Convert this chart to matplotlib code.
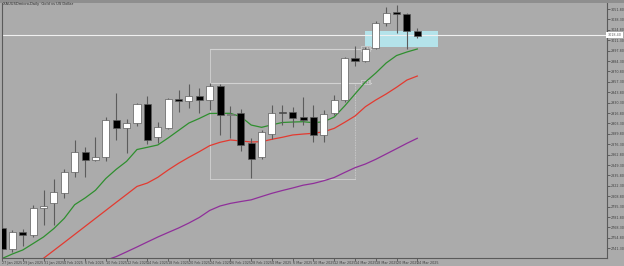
import matplotlib
matplotlib.use("Agg")
import matplotlib.pyplot as plt
from matplotlib.patches import Rectangle
import numpy as np

# --- data (XAUUSD daily candles, 27 Jan 2025 .. 24 Mar 2025) ---
opens = [2767, 2740, 2762.7, 2758.5, 2793, 2799.6, 2813.4, 2840.6, 2866.6, 2855.8,
         2859.3, 2907.7, 2897, 2904.2, 2928, 2886, 2897.7, 2935, 2932.8, 2938.9,
         2933.7, 2951.9, 2914.2, 2916.4, 2877.5, 2859.3, 2889, 2918.5, 2918.5, 2912,
         2912, 2888, 2916.4, 2933.7, 2987.8, 2984.3, 3001, 3034, 3048.3, 3045,
         3023.6]
highs = [2771, 2765, 2766, 2797, 2817, 2830.7, 2843.7, 2881.8, 2873, 2886,
         2911, 2942.4, 2909, 2930, 2939, 2905, 2936.5, 2946.6, 2954, 2948.9,
         2955.4, 2955, 2925.6, 2922, 2885, 2895, 2927.2, 2927, 2924, 2938,
         2927, 2920.7, 2940.2, 2990, 3003.8, 3003, 3036.2, 3054.8, 3057, 3047,
         3026.7]
lows = [2731, 2737, 2744, 2756, 2771, 2771.5, 2806.5, 2834, 2834, 2855,
        2855, 2881.8, 2865, 2900, 2877, 2878, 2896, 2918.5, 2923.7, 2916.4,
        2920.7, 2888, 2885, 2868, 2832, 2857, 2883, 2901, 2899, 2901,
        2879.6, 2879, 2914, 2931, 2978.2, 2983.4, 2999.9, 3030, 3021, 2999.5,
        3013.8]
closes = [2740, 2762.7, 2758.5, 2793, 2796.5, 2813.9, 2840.6, 2865.8, 2855.8, 2859.3,
          2907.7, 2897, 2903.4, 2928, 2881.7, 2899, 2935, 2932.8, 2938.9, 2933.7,
          2951.9, 2914.2, 2916, 2875.3, 2856.7, 2892.5, 2917.2, 2917.2, 2910, 2907.7,
          2888.3, 2915, 2933.7, 2987.8, 2984.3, 2999.9, 3033.2, 3047, 3044.9, 3023.2,
          3017.1]

nan = float("nan")
ma_green = [2727.9, 2733.8, 2739.0, 2747.4, 2755.9, 2766.9, 2780.1, 2797.8, 2806.5, 2816.5,
            2831.8, 2843.7, 2854.1, 2869.4, 2872.3, 2875.3, 2884.4, 2894.1, 2903.8, 2909.7,
            2916.2, 2916.4, 2916.4, 2912.0, 2901.2, 2898.2, 2901.5, 2904.5, 2905.1, 2905.5,
            2904.2, 2905.5, 2911.6, 2925.9, 2941.5, 2957.0, 2968.7, 2981.7, 2991.4, 2996.0,
            2999.9]
ma_red = [nan, nan, nan, 2718, 2728.2, 2738.5, 2748.8, 2759.2, 2769.6, 2780.0,
          2790.4, 2800.8, 2811.1, 2821.5, 2825.9, 2833.3, 2842.8, 2851.5, 2859.3, 2866.6,
          2874.4, 2878.8, 2881.8, 2880.5, 2879.2, 2879.6, 2882.7, 2885.3, 2888.3, 2889.5,
          2890.5, 2892.5, 2896.9, 2904.7, 2912.9, 2925.0, 2933.7, 2941.5, 2950.2, 2959.6,
          2964.8]
ma_purple = [nan, nan, nan, nan, nan, nan, nan, nan, nan, nan,
             2725.7, 2730.4, 2736.6, 2742.9, 2749.4, 2755.8, 2761.7, 2767.5, 2774.0, 2781.2,
             2790.3, 2796.1, 2799.5, 2801.9, 2804.1, 2808.4, 2812.6, 2816.2, 2819.5, 2823.1,
             2825.4, 2828.9, 2833.1, 2839.6, 2845.8, 2850.6, 2856.7, 2863.6, 2870.5, 2877.5,
             2884.0]

date_labels = ["27 Jan 2025", "29 Jan 2025", "31 Jan 2025", "4 Feb 2025", "6 Feb 2025",
               "10 Feb 2025", "12 Feb 2025", "14 Feb 2025", "18 Feb 2025", "20 Feb 2025",
               "24 Feb 2025", "26 Feb 2025", "28 Feb 2025", "4 Mar 2025", "6 Mar 2025",
               "10 Mar 2025", "12 Mar 2025", "14 Mar 2025", "18 Mar 2025", "20 Mar 2025",
               "24 Mar 2025"]
date_idx = list(range(0, 41, 2))

price_ticks = [3051.80, 3038.30, 3024.80, 3011.30, 2997.80, 2984.30, 2970.80, 2957.30,
               2943.80, 2930.30, 2916.80, 2903.30, 2889.80, 2876.30, 2862.80, 2849.30,
               2835.80, 2822.30, 2808.80, 2795.30, 2781.80, 2768.30, 2754.80, 2741.30]

last_price = 3018.40
title = "XAUUSDmicro,Daily  Gold vs US Dollar"

# drawn objects (candle index / price)
zone_x = [35, 42]
zone_p = [3002.1, 3023.2]
box_x = [20, 34, 35.5]
box_levels = [2999.9, 2956.1, 2830.7]

# --- figure ---
bg = "#ababab"
fig = plt.figure(figsize=(6.24, 2.66), dpi=100, facecolor=bg)
ax = fig.add_axes([2 / 624, 8 / 266, 605 / 624, 255 / 266], facecolor=bg)

# background objects
ax.add_patch(Rectangle((zone_x[0], zone_p[0]), zone_x[1] - zone_x[0], zone_p[1] - zone_p[0],
                       facecolor="#b4e3ea", edgecolor="none", zorder=1))
lc = "#d2d2d2"
ax.plot([box_x[0], box_x[2]], [box_levels[0]] * 2, color=lc, lw=0.8, zorder=1)
ax.plot([box_x[0], box_x[2]], [box_levels[1]] * 2, color=lc, lw=0.8, zorder=1)
ax.plot([box_x[0], box_x[1]], [box_levels[2]] * 2, color=lc, lw=0.6, zorder=1)
ax.plot([box_x[0], box_x[0]], [box_levels[0], box_levels[2]], color=lc, lw=0.6, zorder=1)
ax.plot([box_x[1], box_x[1]], [box_levels[1], box_levels[2]], color=lc, lw=0.6,
        ls=(0, (1, 1)), zorder=1)
for lv in box_levels[:2]:
    ax.text(box_x[2] - 0.05, lv, "%.1f" % lv, fontsize=1.8, color="#707070", ha="right",
            va="center", zorder=2,
            bbox=dict(boxstyle="square,pad=0.3", fc="#c4c4c4", ec="none"))

ax.axhline(last_price, color="#f0f0f0", lw=0.8, zorder=1.5)

# moving averages
x = np.arange(len(opens))
ax.plot(x, ma_green, color="#2f8f2f", lw=0.9, zorder=2)
ax.plot(x, ma_red, color="#e33a30", lw=0.9, zorder=2)
ax.plot(x, ma_purple, color="#8f2f9a", lw=0.9, zorder=2)

# candles
o = np.array(opens); c = np.array(closes)
up = c >= o
ax.vlines(x, lows, highs, color="#5c5c5c", lw=0.8, zorder=3)
ax.bar(x[up], (c - o)[up], bottom=o[up], width=0.68, color="white",
       edgecolor="#5c5c5c", lw=0.5, zorder=4)
ax.bar(x[~up], (o - c)[~up], bottom=c[~up], width=0.68, color="black",
       edgecolor="#5c5c5c", lw=0.5, zorder=4)

ax.set_xlim(0.1, 58.27)
ax.set_ylim(2728.6, 3059.6)

# axes styling
for s in ["left", "right", "bottom"]:
    ax.spines[s].set_color("#5a5a5a")
    ax.spines[s].set_linewidth(0.8)
ax.spines["top"].set_visible(False)

ax.yaxis.tick_right()
ax.set_yticks(price_ticks)
ax.set_yticklabels(["%.2f" % p for p in price_ticks])
ax.tick_params(axis="y", length=2, width=0.5, colors="#404040", labelsize=2.4, pad=0.8)
ax.set_xticks(date_idx)
ax.set_xticklabels(date_labels, ha="left")
ax.tick_params(axis="x", length=2, width=0.5, colors="#404040", labelsize=2.4, pad=0.5)

ax.text(1.0008, last_price, "%.2f" % last_price, transform=ax.get_yaxis_transform(),
        fontsize=2.4, color="#606060", ha="left", va="center", zorder=6, clip_on=False,
        bbox=dict(boxstyle="square,pad=0.35", fc="white", ec="none"))

fig.text(3 / 624, 1 - 4.5 / 266, title, fontsize=2.6, color="#303030", ha="left", va="center")

# darker window frame at top
fig.patches.append(Rectangle((0, 1 - 2.5 / 266), 1, 2.5 / 266, transform=fig.transFigure,
                             facecolor="#8e8e8e", edgecolor="none"))

fig.savefig("out.png", dpi=100, facecolor=bg)
